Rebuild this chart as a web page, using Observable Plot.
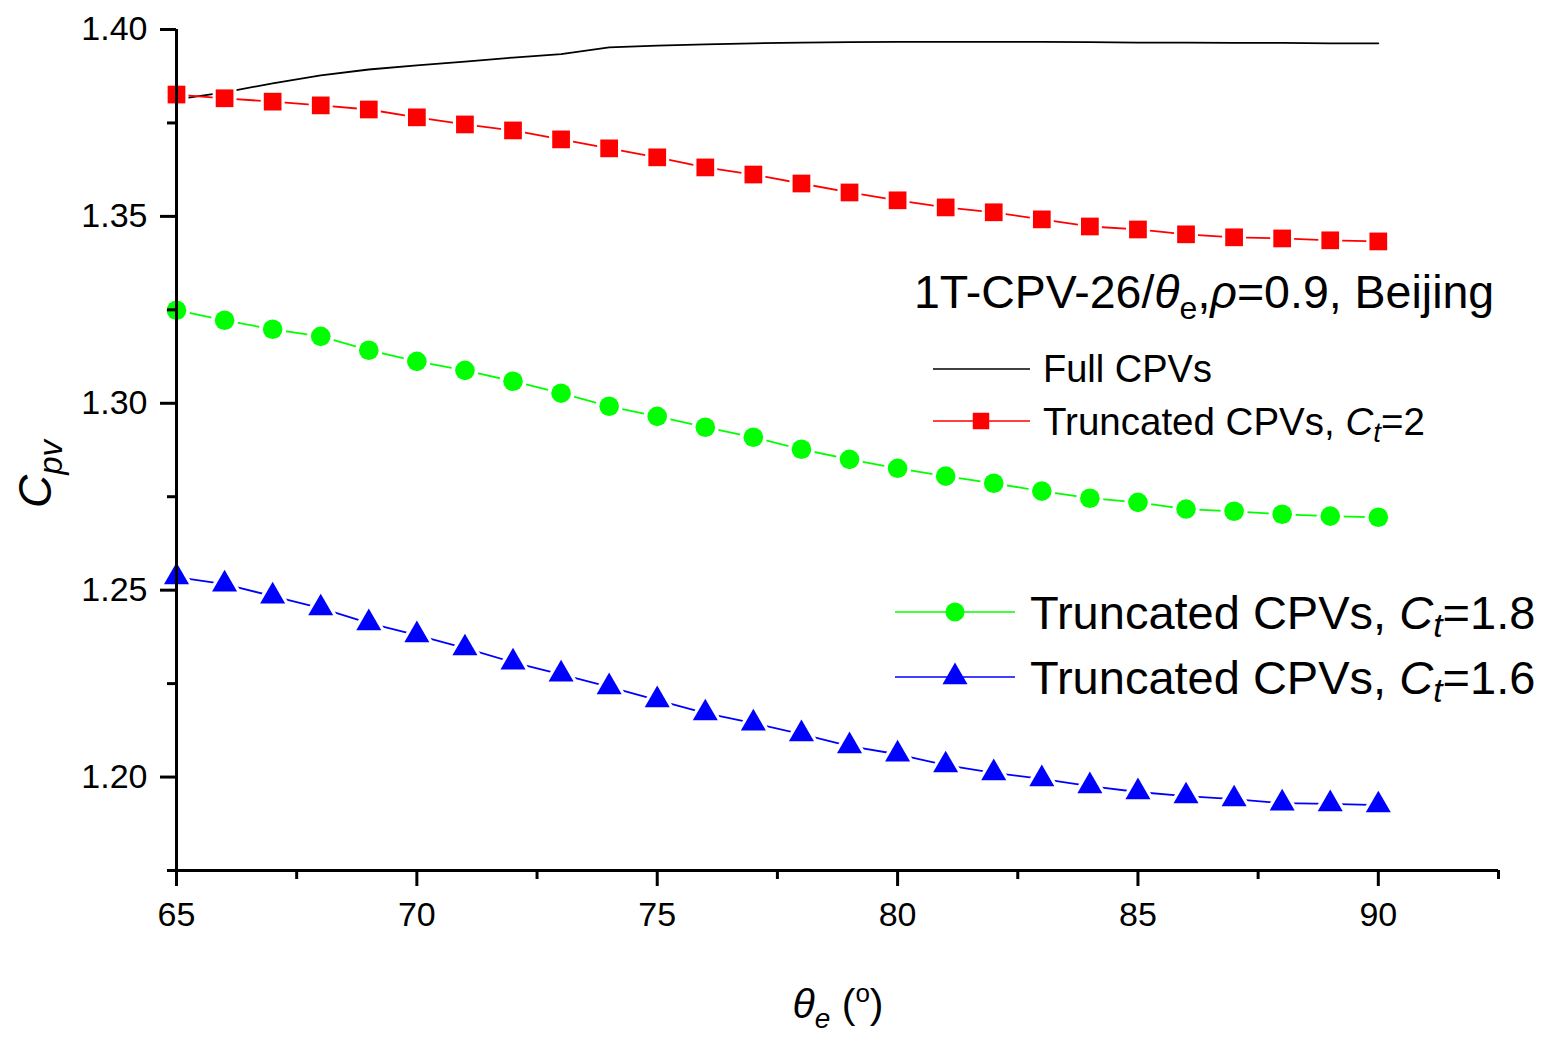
<!DOCTYPE html>
<html>
<head>
<meta charset="utf-8">
<script src="https://cdn.jsdelivr.net/npm/d3@7"></script>
<script src="https://cdn.jsdelivr.net/npm/@observablehq/plot@0.6"></script>
<style>
  html, body { margin: 0; padding: 0; background: #fff; }
  #chart svg { display: block; }
</style>
</head>
<body>
<div id="chart"></div>
<script>
// ---- data ----
const thetaE = [65,66,67,68,69,70,71,72,73,74,75,76,77,78,79,80,81,82,83,84,85,86,87,88,89,90];
const fullCPVs = [1.3813,1.3832,1.3856,1.3877,1.3893,1.3904,1.3914,1.3925,1.3934,1.3952,1.3957,1.3960,1.3963,1.3965,1.3966,1.3967,1.3967,1.3967,1.3967,1.3966,1.3965,1.3965,1.3964,1.3964,1.3963,1.3963];
const truncCt2 = [1.3826,1.3816,1.3807,1.3797,1.3786,1.3765,1.3746,1.3730,1.3706,1.3682,1.3658,1.3631,1.3612,1.3588,1.3564,1.3543,1.3524,1.3511,1.3492,1.3473,1.3465,1.3452,1.3444,1.3441,1.3436,1.3433];
const truncCt18 = [1.3249,1.3222,1.3198,1.3179,1.3142,1.3112,1.3088,1.3059,1.3027,1.2992,1.2965,1.2936,1.2909,1.2877,1.2850,1.2826,1.2805,1.2786,1.2765,1.2746,1.2735,1.2717,1.2711,1.2703,1.2698,1.2695];
const truncCt16 = [1.2535,1.2516,1.2484,1.2452,1.2412,1.2380,1.2345,1.2307,1.2275,1.2241,1.2206,1.2171,1.2144,1.2115,1.2083,1.2061,1.2032,1.2011,1.1995,1.1976,1.1960,1.1949,1.1941,1.1930,1.1928,1.1925];

const xMajor = [65,70,75,80,85,90];
const xMinor = [67.5,72.5,77.5,82.5,87.5,92.5];
const yMajor = [1.20,1.25,1.30,1.35,1.40];
const yMinor = [1.175,1.225,1.275,1.325,1.375];

const toRows = (vals) => thetaE.map((t, i) => ({x: t, y: vals[i]}));
const full = toRows(fullCPVs);
const ct2 = toRows(truncCt2);
const ct18 = toRows(truncCt18);
const ct16 = toRows(truncCt16);

const FONT = "'Liberation Sans', Arial, sans-serif";
const W = 1546, H = 1040;

const plot = Plot.plot({
  width: W,
  height: H,
  marginTop: 29,
  marginBottom: H - 870,
  marginLeft: 176,
  marginRight: 48,
  style: {fontFamily: FONT, fontSize: "34px", color: "#000", background: "#fff", overflow: "visible"},
  x: {domain: [65, 92.5], label: null},
  y: {domain: [1.175, 1.40], label: null},
  marks: [
    // data lines
    Plot.line(full, {x: "x", y: "y", stroke: "#000", strokeWidth: 1.8}),
    Plot.line(ct2, {x: "x", y: "y", stroke: "#ff0000", strokeWidth: 1.8}),
    Plot.dot(ct2, {x: "x", y: "y", symbol: "square", r: 13.5, fill: "#fff"}),
    Plot.dot(ct2, {x: "x", y: "y", symbol: "square", r: 10, fill: "#ff0000"}),
    Plot.line(ct18, {x: "x", y: "y", stroke: "#00ff00", strokeWidth: 1.8}),
    Plot.dot(ct18, {x: "x", y: "y", r: 13.5, fill: "#fff"}),
    Plot.dot(ct18, {x: "x", y: "y", r: 9.8, fill: "#00ff00"}),
    Plot.line(ct16, {x: "x", y: "y", stroke: "#0000ff", strokeWidth: 1.8}),
    Plot.dot(ct16, {x: "x", y: "y", symbol: "triangle", r: 13.5, fill: "#fff"}),
    Plot.dot(ct16, {x: "x", y: "y", symbol: "triangle", r: 9.3, fill: "#0000ff"}),
    // axes
    Plot.axisX({ticks: xMajor, tickSize: 16, tickPadding: 15, strokeWidth: 3, tickFormat: d3.format("d"), fontSize: 34}),
    Plot.axisX({ticks: xMinor, tickSize: 9, strokeWidth: 3, tickFormat: () => ""}),
    Plot.axisY({ticks: yMajor, tickSize: 16, tickPadding: 13, strokeWidth: 3, tickFormat: d3.format(".2f"), fontSize: 34}),
    Plot.axisY({ticks: yMinor, tickSize: 9, strokeWidth: 3, tickFormat: () => ""}),
    Plot.ruleX([65], {stroke: "#000", strokeWidth: 3}),
    Plot.ruleY([1.175], {stroke: "#000", strokeWidth: 3})
  ]
});

document.getElementById("chart").appendChild(plot);

// ---- annotations, titles and legend ----
const svg = d3.select(plot);
const g = svg.append("g").attr("font-family", FONT).attr("fill", "#000").attr("text-anchor", "start");

// y-axis title C_pv
const yt = g.append("text")
  .attr("transform", "translate(51,474) rotate(-90)")
  .attr("text-anchor", "middle")
  .attr("font-size", 46);
yt.append("tspan").attr("font-style", "italic").text("C");
yt.append("tspan").attr("font-style", "italic").attr("font-size", 33).attr("dy", 11).text("pv");

// x-axis title θe (°)
const xt = g.append("text")
  .attr("x", 838).attr("y", 1018)
  .attr("text-anchor", "middle")
  .attr("font-size", 41);
xt.append("tspan").attr("font-style", "italic").text("θ");
xt.append("tspan").attr("font-style", "italic").attr("font-size", 28).attr("dy", 10).text("e");
xt.append("tspan").attr("dy", -10).text(" (");
xt.append("tspan").attr("font-size", 26).attr("dy", -16).text("o");
xt.append("tspan").attr("dy", 16).text(")");

// annotation title
const at = g.append("text")
  .attr("x", 914).attr("y", 308)
  .attr("text-anchor", "start")
  .attr("font-size", 46.5);
at.append("tspan").text("1T-CPV-26/");
at.append("tspan").attr("font-style", "italic").text("θ");
at.append("tspan").attr("font-size", 32).attr("dy", 11).text("e");
at.append("tspan").attr("dy", -11).text(",");
at.append("tspan").attr("font-style", "italic").text("ρ");
at.append("tspan").text("=0.9, Beijing");

// legend
const sym = (type, r) => d3.symbol(type, r * r * Math.PI)();
function legendText(x, y, size, parts) {
  const t = g.append("text").attr("x", x).attr("y", y).attr("font-size", size)
    .attr("text-anchor", "start").attr("dominant-baseline", "central");
  parts.forEach(p => {
    const s = t.append("tspan").text(p.t);
    if (p.i) s.attr("font-style", "italic");
    if (p.sub) s.attr("font-size", size * 0.72).attr("dy", size * 0.28);
    if (p.up) s.attr("dy", -size * 0.28);
  });
}
// Full CPVs
g.append("line").attr("x1", 933).attr("x2", 1030).attr("y1", 369).attr("y2", 369).attr("stroke", "#000").attr("stroke-width", 1.5);
legendText(1043, 369, 38, [{t: "Full CPVs"}]);
// Ct = 2
g.append("line").attr("x1", 933).attr("x2", 1030).attr("y1", 421).attr("y2", 421).attr("stroke", "#ff0000").attr("stroke-width", 1.5);
g.append("path").attr("d", sym(d3.symbolSquare, 9.3)).attr("transform", "translate(981,421)").attr("fill", "#ff0000");
legendText(1043, 421, 38.5, [{t: "Truncated CPVs, "}, {t: "C", i: true}, {t: "t", i: true, sub: true}, {t: "=2", up: true}]);
// Ct = 1.8
g.append("line").attr("x1", 895).attr("x2", 1015).attr("y1", 612).attr("y2", 612).attr("stroke", "#00ff00").attr("stroke-width", 1.5);
g.append("circle").attr("cx", 955).attr("cy", 612).attr("r", 9.5).attr("fill", "#00ff00");
legendText(1030, 612, 47, [{t: "Truncated CPVs, "}, {t: "C", i: true}, {t: "t", i: true, sub: true}, {t: "=1.8", up: true}]);
// Ct = 1.6
g.append("line").attr("x1", 895).attr("x2", 1015).attr("y1", 677).attr("y2", 677).attr("stroke", "#0000ff").attr("stroke-width", 1.5);
g.append("path").attr("d", sym(d3.symbolTriangle, 9.3)).attr("transform", "translate(955,677)").attr("fill", "#0000ff");
legendText(1030, 677, 47, [{t: "Truncated CPVs, "}, {t: "C", i: true}, {t: "t", i: true, sub: true}, {t: "=1.6", up: true}]);
</script>
</body>
</html>
